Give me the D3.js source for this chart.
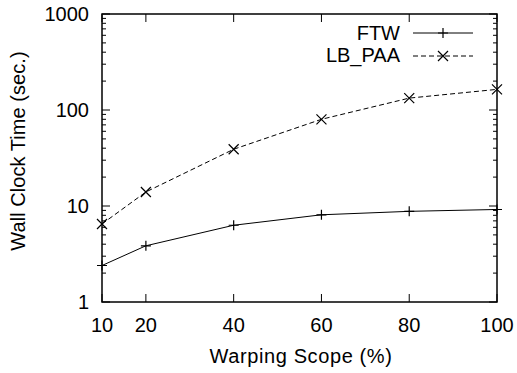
<!DOCTYPE html>
<html>
<head>
<meta charset="utf-8">
<script src="https://cdn.jsdelivr.net/npm/d3@7"></script>
<style>
  body { margin: 0; background: #fff; }
  text { font-family: "Liberation Sans", Arial, sans-serif; fill: #000; }
</style>
</head>
<body>
<svg id="chart" width="517" height="373"></svg>
<script>
// data
const scopes = [10, 20, 40, 60, 80, 100];
const ftw = [2.4, 3.85, 6.3, 8.1, 8.8, 9.2];
const lbPaa = [6.5, 14, 39, 80, 133, 164];
const xTicks = [10, 20, 40, 60, 80, 100];
const yTicks = [1, 10, 100, 1000];

const svg = d3.select('#chart');
const plotL = 102, plotR = 497, plotT = 14, plotB = 302;
const fs = 20;

const x = d3.scaleLinear().domain([10, 100]).range([plotL, plotR]);
const y = d3.scaleLog().domain([1, 1000]).range([plotB, plotT]);

// frame
svg.append('rect')
  .attr('x', plotL).attr('y', plotT)
  .attr('width', plotR - plotL).attr('height', plotB - plotT)
  .attr('fill', 'none').attr('stroke', '#000').attr('stroke-width', 1.5);

// y minor ticks (both sides)
const minor = [];
for (let d = 1; d < 1000; d *= 10) for (let k = 2; k <= 9; k++) minor.push(d * k);

const g = svg.append('g').attr('stroke', '#000').attr('stroke-width', 1);
minor.forEach(v => {
  g.append('line').attr('x1', plotL).attr('x2', plotL + 4).attr('y1', y(v)).attr('y2', y(v));
  g.append('line').attr('x1', plotR).attr('x2', plotR - 4).attr('y1', y(v)).attr('y2', y(v));
});
yTicks.forEach(v => {
  g.append('line').attr('x1', plotL).attr('x2', plotL + 8).attr('y1', y(v)).attr('y2', y(v));
  g.append('line').attr('x1', plotR).attr('x2', plotR - 8).attr('y1', y(v)).attr('y2', y(v));
});
xTicks.forEach(v => {
  g.append('line').attr('x1', x(v)).attr('x2', x(v)).attr('y1', plotB).attr('y2', plotB - 8);
  g.append('line').attr('x1', x(v)).attr('x2', x(v)).attr('y1', plotT).attr('y2', plotT + 8);
});

// tick labels
svg.selectAll('.yl').data(yTicks).enter().append('text')
  .attr('x', plotL - 13).attr('y', d => y(d) + 7)
  .attr('text-anchor', 'end').attr('font-size', fs).text(d => d);

svg.selectAll('.xl').data(xTicks).enter().append('text')
  .attr('x', d => x(d)).attr('y', 332)
  .attr('text-anchor', 'middle').attr('font-size', fs).text(d => d);

// axis titles
svg.append('text').attr('x', 301).attr('y', 363)
  .attr('text-anchor', 'middle').attr('font-size', fs).attr('letter-spacing', 0.6)
  .text('Warping Scope (%)');
svg.append('text')
  .attr('transform', 'translate(25,151) rotate(-90)')
  .attr('text-anchor', 'middle').attr('font-size', fs).attr('letter-spacing', 0.05)
  .text('Wall Clock Time (sec.)');

// lines
const line = d3.line().x(d => x(d[0])).y(d => y(d[1]));
const ftwPts = scopes.map((s, i) => [s, ftw[i]]);
const lbPts = scopes.map((s, i) => [s, lbPaa[i]]);

svg.append('path').datum(ftwPts).attr('d', line)
  .attr('fill', 'none').attr('stroke', '#000').attr('stroke-width', 1);
svg.append('path').datum(lbPts).attr('d', line)
  .attr('fill', 'none').attr('stroke', '#000').attr('stroke-width', 1)
  .attr('stroke-dasharray', '5,3');

function plus(px, py) {
  svg.append('path').attr('d', `M${px-5},${py}H${px+5}M${px},${py-5}V${py+5}`)
    .attr('stroke', '#000').attr('stroke-width', 1.2).attr('fill', 'none');
}
function cross(px, py) {
  svg.append('path').attr('d', `M${px-5},${py-5}L${px+5},${py+5}M${px-5},${py+5}L${px+5},${py-5}`)
    .attr('stroke', '#000').attr('stroke-width', 1.2).attr('fill', 'none');
}
ftwPts.forEach(d => plus(x(d[0]), y(d[1])));
lbPts.forEach(d => cross(x(d[0]), y(d[1])));

// legend
svg.append('text').attr('x', 400).attr('y', 40).attr('text-anchor', 'end')
  .attr('font-size', fs).text('FTW');
svg.append('text').attr('x', 400).attr('y', 62).attr('text-anchor', 'end')
  .attr('font-size', fs).text('LB_PAA');
svg.append('line').attr('x1', 413).attr('x2', 473).attr('y1', 33).attr('y2', 33)
  .attr('stroke', '#000').attr('stroke-width', 1);
svg.append('line').attr('x1', 413).attr('x2', 473).attr('y1', 56).attr('y2', 56)
  .attr('stroke', '#000').attr('stroke-width', 1).attr('stroke-dasharray', '5,3');
plus(443, 33);
cross(443, 56);
</script>
</body>
</html>
